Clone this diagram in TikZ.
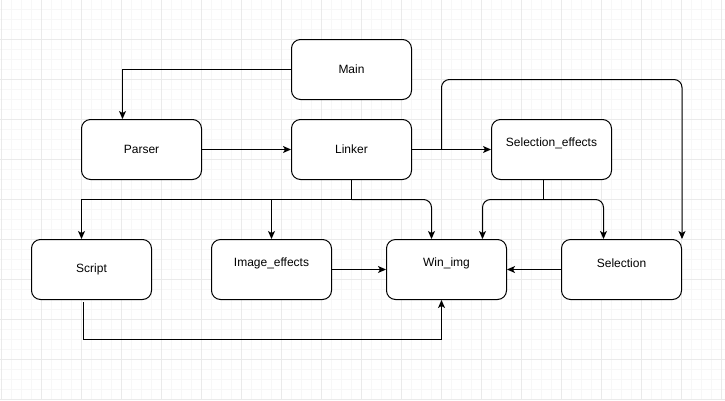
\documentclass[tikz,border=0pt]{standalone}
\usepackage{fontspec}
\setmainfont{Liberation Sans}
\usetikzlibrary{arrows.meta,calc}
\definecolor{gridminor}{RGB}{247,247,247}
\definecolor{gridmajor}{RGB}{234,234,234}
\tikzset{
  box/.style={draw, fill=white, line width=1pt, rounded corners=9pt,
    minimum width=120pt, minimum height=60pt, inner sep=0pt, font=\fontsize{12}{14}\selectfont},
  uplbl/.style={label={[yshift=6.5pt, font=\fontsize{12}{14}\selectfont]center:#1}},
  arr/.style={line width=1pt, -{Stealth[length=8pt,width=7pt,inset=2pt]}},
  ln/.style={line width=1pt}
}
\begin{document}
\begin{tikzpicture}[x=1pt,y=-1pt]
\useasboundingbox (0,0) rectangle (725,400);
\fill[white] (0,0) rectangle (725,400);
% grid
\foreach \i in {0,...,72} {
  \draw[gridminor, line width=1pt] ({1.5+10*\i},0) -- ({1.5+10*\i},400);
}
\foreach \j in {1,...,40} {
  \draw[gridminor, line width=1pt] (0,{-0.5+10*\j}) -- (725,{-0.5+10*\j});
}
\foreach \i in {0,...,18} {
  \draw[gridmajor, line width=1pt] ({1.5+40*\i},0) -- ({1.5+40*\i},400);
}
\foreach \j in {1,...,10} {
  \draw[gridmajor, line width=1pt] (0,{-0.5+40*\j}) -- (725,{-0.5+40*\j});
}
% nodes
\node[box] (Main) at (351.5,69.5) {Main};
\node[box] (Parser) at (141.5,149.5) {Parser};
\node[box] (Linker) at (351.5,149.5) {Linker};
\node[box, uplbl={Selection\_effects}] (SelEff) at (551.5,149.5) {};
\node[box] (Script) at (91.5,269.5) {Script};
\node[box, uplbl={Image\_effects}] (ImgEff) at (271.5,269.5) {};
\node[box, uplbl={Win\_img}] (WinImg) at (446.5,269.5) {};
\node[box, uplbl={Selection}] (Sel) at (621.5,269.5) {};
% junctions
\coordinate (j1) at (441.5,149.5);
\coordinate (j2) at (351.5,199.5);
\coordinate (j3) at (543.5,199.5);
\coordinate (s1) at (83.5,339.5);
% connectors
\draw[arr] (Main.west) -| ([xshift=-19pt]Parser.north);
\draw[arr] (Parser.east) -- (Linker.west);
\draw[arr] (Linker.east) -- (SelEff.west);
\draw[arr, rounded corners=8pt] (j1) -- (441.5,79.5) -| (Sel.north east);
\draw[ln] (Linker.south) -- (j2);
\draw[arr] (j2) -| ([xshift=-10pt]Script.north);
\draw[arr] (j2) -| (ImgEff.north);
\draw[arr, rounded corners=8pt] (j2) -| ([xshift=-15pt]WinImg.north);
\draw[ln] ([xshift=-8pt]SelEff.south) -- (j3);
\draw[arr, rounded corners=8pt] (j3) -| ([xshift=36pt]WinImg.north);
\draw[arr, rounded corners=8pt] (j3) -| ([xshift=-18pt]Sel.north);
\draw[arr] (ImgEff.east) -- (WinImg.west);
\draw[arr] (Sel.west) -- (WinImg.east);
\draw[arr] ([xshift=-8pt,yshift=-2pt]Script.south) -- (s1) -| ([xshift=-5pt]WinImg.south);
\end{tikzpicture}
\end{document}
